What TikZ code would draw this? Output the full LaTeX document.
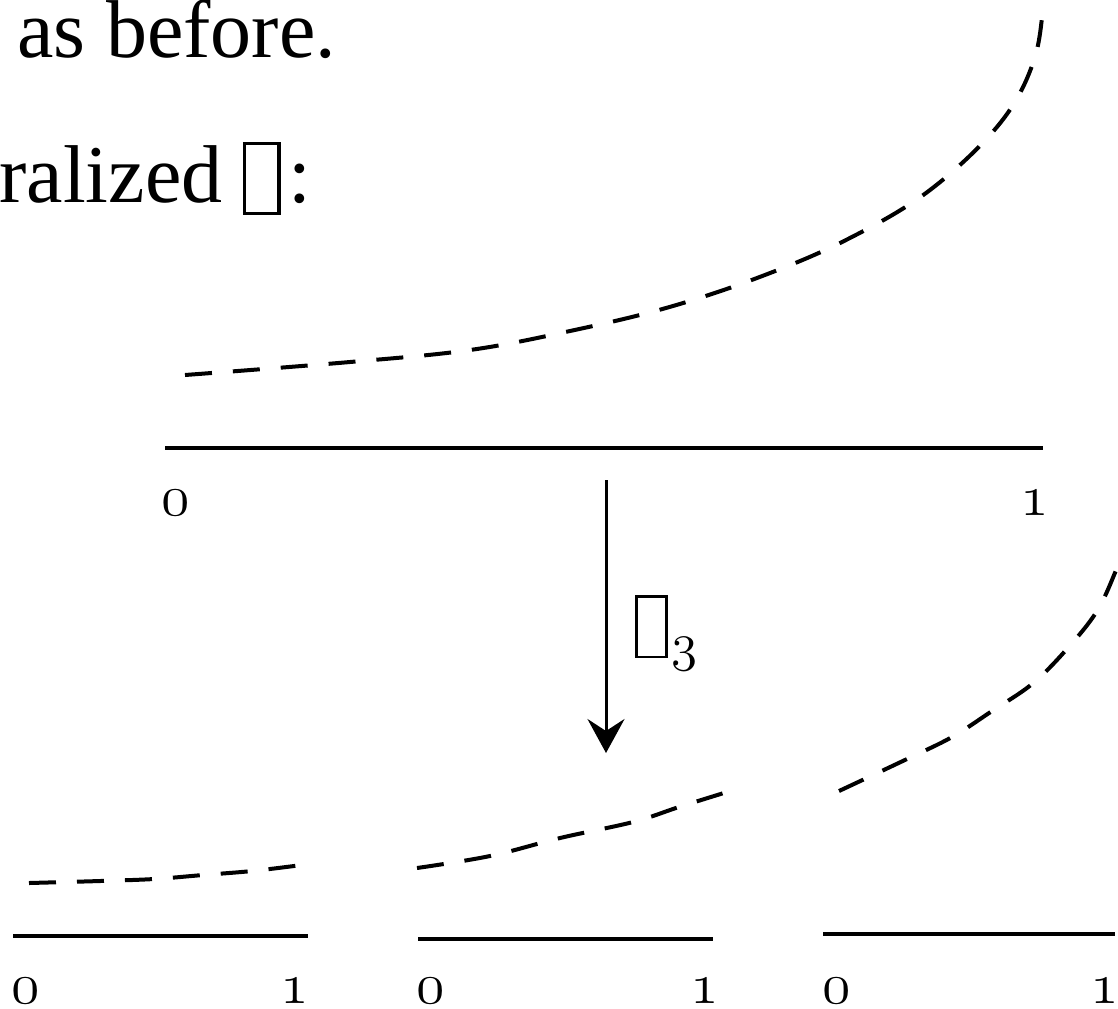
\RequirePackage{fix-cm}
\documentclass[tikz,border=0pt]{standalone}
\usepackage{fontspec}
\setmainfont{Liberation Serif}
\usetikzlibrary{arrows.meta}
\newcommand\tofubox{{\fboxsep=0pt\fboxrule=0.04em\fbox{\rule[-0.12em]{0pt}{0.81em}\hspace{0.38em}}}}
\begin{document}
\begin{tikzpicture}[x=0.5pt,y=-0.5pt,
  txt/.style={inner sep=0pt, anchor=base west, font=\fontsize{41}{41}\selectfont},
  num/.style={inner sep=0pt, anchor=base, font=\fontsize{29}{29}\selectfont},
  bar/.style={line width=1.7pt},
  curve/.style={line width=2pt, dash pattern=on 13.5pt off 10.5pt},
  map/.style={line width=1.5pt, -{Stealth[length=17pt,width=18.5pt,inset=6pt]}}]
\useasboundingbox (0,0) rectangle (1118,1008);

% text
\node[txt] (t1) at (17,57) {as before.};
\node[txt] (t2) at (-1,202) {ralized \tofubox\kern0.1em:};

% top interval
\coordinate (L0) at (165,448);
\coordinate (R0) at (1043,448);
\draw[bar] (L0) -- (R0);
\node[num] (z0) at (176,515) {$\mathnormal{0}$};
\node[num] (o0) at (1035,515) {$\mathnormal{1}$};
\draw[curve] plot[smooth, tension=0.6] coordinates {(185,375) (350,362) (470,350) (570,331) (666,308) (757,278) (846,240) (930,190) (1001,122) (1035,57) (1044,-10)};

% map arrow
\coordinate (as) at (606,480);
\coordinate (ae) at (606,753);
\draw[map] (as) -- (ae);
\node[inner sep=0pt, anchor=base west, font=\fontsize{35.5}{35.5}\selectfont] (f3) at (635,647)
  {\tofubox\kern1.5pt\raisebox{-6.5pt}{\fontsize{26.5}{26.5}\selectfont$\mathnormal{3}$}};

% bottom intervals
\coordinate (L1) at (13,936);  \coordinate (R1) at (308,936);
\coordinate (L2) at (418,939); \coordinate (R2) at (713,939);
\coordinate (L3) at (823,934); \coordinate (R3) at (1115,934);
\draw[bar] (L1) -- (R1);
\draw[bar] (L2) -- (R2);
\draw[bar] (L3) -- (R3);
\node[num] (z1) at (26,1003)  {$\mathnormal{0}$};
\node[num] (o1) at (295,1003) {$\mathnormal{1}$};
\node[num] (z2) at (431,1003) {$\mathnormal{0}$};
\node[num] (o2) at (705,1003) {$\mathnormal{1}$};
\node[num] (z3) at (837,1003) {$\mathnormal{0}$};
\node[num] (o3) at (1105,1003) {$\mathnormal{1}$};

% lower dashed curve pieces
\draw[curve] plot[smooth, tension=0.6] coordinates {(29,883) (100,881) (154,879) (203,875) (252,871) (302,865)};
\draw[curve] plot[smooth, tension=0.6] coordinates {(417,868) (490,856) (560,838) (633,822) (679,807) (727,792)};
\draw[curve] plot[smooth, tension=0.6] coordinates {(839,791) (907,759) (952,737) (992,711) (1032,684) (1066,650) (1097,611) (1117,568) (1130,535)};
\end{tikzpicture}
\end{document}
